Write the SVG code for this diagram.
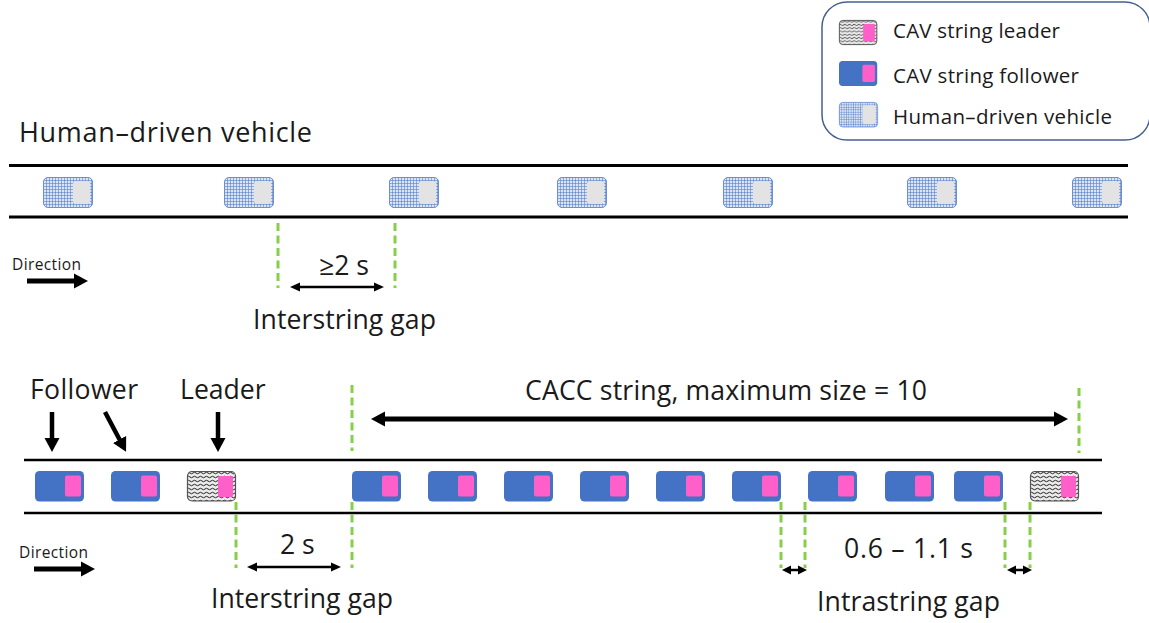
<svg xmlns="http://www.w3.org/2000/svg" width="1149" height="623" viewBox="0 0 1149 623">
<style>
text{font-family:"Open Sans","Noto Sans","Liberation Sans",sans-serif;fill:#1a1a1a}
.t25{font-size:26.600px}.leg{font-size:20.500px}.dir{font-size:15.500px}
.road{stroke:#000;fill:none}
.gap{stroke:#86cf4a;stroke-width:3;stroke-dasharray:8 4.500;fill:none}
.arr{stroke:#000;fill:none}
.body-f{fill:#4472c4}
.pink{fill:#ff5fc8}
.gray{fill:#e3e3e3}
</style>
<defs>
<pattern id="grid" width="3" height="3" patternUnits="userSpaceOnUse">
<rect width="3" height="3" fill="#dbe4f5"/>
<path d="M0 0H3M0 0V3" stroke="#4472c4" stroke-width="1" fill="none"/>
</pattern>
<pattern id="wave" width="6" height="4" patternUnits="userSpaceOnUse">
<rect width="6" height="4" fill="#ececec"/>
<path d="M0 2Q1.500 .5 3 2T6 2" stroke="#222" stroke-width="1" fill="none"/>
</pattern>
<g id="hv">
<rect x="0.500" y="0.500" width="49" height="30" rx="4.500" fill="url(#grid)" stroke="#6d8fd0" stroke-width="1"/>
<rect x="30" y="4" width="17" height="23" rx="3" class="gray"/>
</g>
<g id="cf">
<rect width="49" height="30.500" rx="4.500" class="body-f"/>
<rect x="30" y="4.500" width="16" height="21" rx="2" class="pink"/>
</g>
<g id="cl">
<rect x="0.500" y="0.500" width="48" height="29.500" rx="4.500" fill="url(#wave)" stroke="#555" stroke-width="1.200"/>
<rect x="31" y="5" width="15" height="21" rx="2" class="pink"/>
</g>
<marker id="big" markerUnits="userSpaceOnUse" markerWidth="16" markerHeight="16" refX="4" refY="8" orient="auto-start-reverse"><path d="M0 0.500L14 8L0 15.500Z" fill="#000"/></marker>
<marker id="mid" markerUnits="userSpaceOnUse" markerWidth="11" markerHeight="11" refX="4" refY="5.500" orient="auto-start-reverse"><path d="M0 1L10 5.500L0 10Z" fill="#000"/></marker>
<marker id="sm" markerUnits="userSpaceOnUse" markerWidth="11" markerHeight="11" refX="3" refY="5.500" orient="auto-start-reverse"><path d="M0 1L9 5.500L0 10Z" fill="#000"/></marker>
</defs>

<g id="legend">
<rect x="822" y="2" width="328" height="138" rx="25" fill="#fff" stroke="#44608f" stroke-width="1.500"/>
<use href="#cl" transform="translate(839 20) scale(.78 .82)"/>
<use href="#cf" transform="translate(839 61) scale(.78 .82)"/>
<use href="#hv" transform="translate(839 102) scale(.78 .82)"/>
<text class="leg" x="893" y="38" textLength="167">CAV string leader</text>
<text class="leg" x="893" y="83" textLength="186">CAV string follower</text>
<text class="leg" x="893" y="124" textLength="219">Human–driven vehicle</text>
</g>

<g id="roads">
<path class="road" stroke-width="2.800" d="M9 165.500H1128M9 217H1128"/>
<path class="road" stroke-width="2.400" d="M24 460H1102M24 513H1102"/>
</g>

<g id="human-vehicles">
<g id="hv1"><use href="#hv" x="43" y="177"/></g>
<g id="hv2"><use href="#hv" x="224" y="177"/></g>
<g id="hv3"><use href="#hv" x="389" y="177"/></g>
<g id="hv4"><use href="#hv" x="557" y="177"/></g>
<g id="hv5"><use href="#hv" x="723" y="177"/></g>
<g id="hv6"><use href="#hv" x="907" y="177"/></g>
<g id="hv7"><use href="#hv" x="1072" y="177"/></g>
</g>

<g id="cav-vehicles">
<g id="c1"><use href="#cf" x="35" y="471"/></g>
<g id="c2"><use href="#cf" x="111" y="471"/></g>
<g id="c3"><use href="#cl" x="187" y="471"/></g>
<g id="c4"><use href="#cf" x="352" y="471"/></g>
<g id="c5"><use href="#cf" x="428" y="471"/></g>
<g id="c6"><use href="#cf" x="504" y="471"/></g>
<g id="c7"><use href="#cf" x="580" y="471"/></g>
<g id="c8"><use href="#cf" x="656" y="471"/></g>
<g id="c9"><use href="#cf" x="732" y="471"/></g>
<g id="c10"><use href="#cf" x="808" y="471"/></g>
<g id="c11"><use href="#cf" x="885" y="471"/></g>
<g id="c12"><use href="#cf" x="954" y="471"/></g>
<g id="c13"><use href="#cl" x="1030" y="471"/></g>
</g>

<g id="connectors">
<path class="gap" d="M278 223V288M395 223V288M352 385V451M1079 388V453M236 502V568M352 502V568M781 502V568M805 502V568M1005 502V568M1030 502V568"/>
<path class="arr" stroke-width="5" d="M27 281H78" marker-end="url(#big)"/>
<path class="arr" stroke-width="5" d="M34 569H85" marker-end="url(#big)"/>
<path class="arr" stroke-width="2.500" d="M296 287H378" marker-start="url(#mid)" marker-end="url(#mid)"/>
<path class="arr" stroke-width="2.500" d="M253 567H335" marker-start="url(#mid)" marker-end="url(#mid)"/>
<path class="arr" stroke-width="5" d="M381 419H1058" marker-start="url(#big)" marker-end="url(#big)"/>
<path class="arr" stroke-width="4.500" d="M52 412V442" marker-end="url(#big)"/>
<path class="arr" stroke-width="4.500" d="M105 412L121.400 443" marker-end="url(#big)"/>
<path class="arr" stroke-width="4.500" d="M218 412V442" marker-end="url(#big)"/>
<path class="arr" stroke-width="2.500" d="M788 570H801" marker-start="url(#sm)" marker-end="url(#sm)"/>
<path class="arr" stroke-width="2.500" d="M1013 570H1026" marker-start="url(#sm)" marker-end="url(#sm)"/>
</g>

<g id="labels">
<text x="19" y="142" font-size="27" textLength="293">Human–driven vehicle</text>
<text class="dir" x="12" y="270" textLength="69">Direction</text>
<text class="dir" x="19" y="558" textLength="69">Direction</text>
<text class="t25" x="319" y="275">≥2 s</text>
<text class="t25" x="253" y="329" textLength="183">Interstring gap</text>
<text class="t25" x="30" y="399" textLength="108">Follower</text>
<text class="t25" x="180" y="399">Leader</text>
<text class="t25" x="525" y="400" textLength="402">CACC string, maximum size = 10</text>
<text class="t25" x="280" y="554">2 s</text>
<text class="t25" x="211" y="608" textLength="182">Interstring gap</text>
<text class="t25" x="844" y="558" textLength="129">0.6 – 1.1 s</text>
<text class="t25" x="817" y="611" textLength="183">Intrastring gap</text>
</g>
</svg>
